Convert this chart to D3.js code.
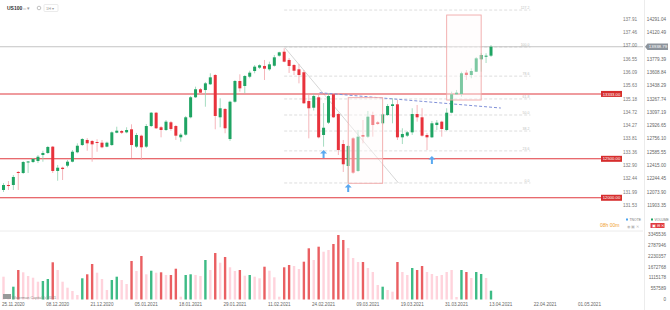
<!DOCTYPE html>
<html><head><meta charset="utf-8">
<script src="https://cdn.jsdelivr.net/npm/d3@7"></script>
<style>body{margin:0;background:#fff;} svg{display:block;font-family:"Liberation Sans",Arial,sans-serif;}</style>
</head><body><svg id="c" width="670" height="310"></svg>
<script>
// ---------- DATA ----------
const opens = [12100,12164,12164,12331,12318,12453,12459,12472,12549,12575,
12656,12344,12386,12412,12463,12584,12677,12742,12729,12716,
12707,12656,12677,12835,12857,12840,12879,12656,12797,12656,
12921,13092,12905,12870,12969,12921,12776,12810,13033,13290,
13393,13383,13457,13576,13033,13140,12754,13233,13499,13435,
13554,13627,13670,13692,13649,13695,13824,13875,13769,13704,
13649,13611,13242,13156,13290,12806,12964,13328,13075,12690,
12408,12763,12344,12806,12784,13062,12969,12956,13062,13178,
13200,12776,12797,12840,13075,13033,12806,12776,12934,12977,
12870,13092,13328,13332,13606,13576,13618,13777,13811,13824];
const highs = [12189,12215,12292,12344,12472,12472,12511,12549,12604,12665,
12665,12421,12399,12485,12613,12699,12767,12767,12742,12751,
12742,12720,12853,12912,12870,12905,12943,12832,12810,12947,
13101,13101,12921,12998,12986,12934,12831,13050,13306,13426,
13409,13486,13598,13589,13277,13152,13246,13512,13585,13576,
13631,13704,13713,13769,13747,13833,13875,13919,13794,13717,
13717,13640,13319,13332,13319,13216,13345,13345,13088,12742,
12677,12780,12870,12998,13114,13105,12986,13088,13204,13277,
13255,12892,12857,13149,13191,13149,12832,12986,12998,12989,
13149,13362,13384,13619,13640,13662,13807,13858,13855,13961];
const lows = [12074,12100,12100,12100,12305,12318,12446,12446,12463,12562,
12318,12219,12228,12391,12455,12571,12665,12604,12463,12591,
12635,12648,12665,12828,12819,12828,12511,12639,12485,12639,
12908,12883,12776,12857,12861,12742,12720,12797,13020,13281,
13332,13169,13448,12879,12905,12828,12729,13220,13362,13341,
13534,13598,13653,13512,13631,13683,13811,13739,13602,13576,
13469,13204,12763,13120,12763,12656,12947,13024,12549,12331,
12186,12305,12331,12699,12767,12784,12934,12938,13050,12956,
12742,12690,12780,12806,12977,12784,12613,12767,12870,12784,
12857,13084,13319,13298,13512,13534,13614,13618,13730,13807];
const closes = [12164,12151,12267,12318,12459,12466,12498,12527,12575,12652,
12344,12386,12369,12463,12591,12668,12754,12699,12686,12703,
12648,12707,12840,12861,12835,12870,12677,12806,12648,12921,
13092,12892,12870,12977,12883,12797,12810,13033,13290,13393,
13349,13469,13546,13050,13149,12892,13233,13499,13405,13563,
13606,13683,13701,13657,13713,13803,13867,13747,13692,13631,
13576,13213,13149,13306,12776,12899,13306,13033,12613,12430,
12665,12322,12784,12784,13041,12934,12947,13071,13178,13200,
12776,12819,12840,13075,13033,12797,12776,12956,12964,12883,
13092,13328,13349,13598,13576,13627,13790,13833,13824,13939];
const volumes = [1174000,77000,659000,1518000,1400000,1210000,1122000,916000,952000,1055000,
1915000,1518000,916000,607000,438000,232000,1091000,1297000,1827000,1379000,
1055000,489000,1004000,1174000,1004000,798000,1982000,1467000,2239000,1297000,
1482000,1379000,1400000,1261000,1261000,1585000,144000,1261000,1297000,1261000,
1210000,2033000,1518000,2393000,1894000,2188000,1657000,1467000,1518000,1225000,
1261000,1174000,1091000,1688000,1482000,1143000,144000,1657000,1776000,1724000,
1570000,1946000,2635000,2033000,2718000,2460000,2548000,2857000,3320000,3063000,
2651000,2136000,1930000,1930000,1621000,1415000,746000,659000,489000,402000,
1930000,1415000,1261000,1621000,1518000,1724000,1415000,1313000,1210000,1261000,
1415000,1518000,129000,1518000,1415000,1107000,1415000,1313000,1107000,453000];
const volumeKinds = ["p","p","g","r","p","p","p","p","g","g",
"r","p","p","p","p","p","g","r","r","p",
"p","p","g","g","p","p","r","p","r","p",
"g","p","r","p","r","r","p","g","g","p",
"p","g","p","r","p","r","p","p","r","p",
"g","p","p","r","p","p","p","r","r","p",
"p","r","r","p","r","p","p","r","r","r",
"p","p","p","r","p","p","p","g","p","p",
"r","p","p","g","r","r","p","p","p","p",
"p","p","p","g","r","p","g","g","p","g"];
const dateLabels = ["25.11.2020","08.12.2020","21.12.2020","05.01.2021","18.01.2021","29.01.2021","11.02.2021","24.02.2021","09.03.2021","19.03.2021","31.03.2021","13.04.2021","22.04.2021","01.05.2021"];
const priceTicks = [11903.35,12073.90,12244.45,12415.00,12585.55,12756.10,12926.65,13097.19,13267.74,13438.29,13608.84,13779.39,14120.49,14291.04];
const priceTickText = ["11903.35","12073.90","12244.45","12415.00","12585.55","12756.10","12926.65","13097.19","13267.74","13438.29","13608.84","13779.39","14120.49","14291.04"];
const altTickText = ["131.53","131.99","132.44","132.90","133.36","133.81","134.27","134.72","135.18","135.63","136.09","136.55","137.00","137.46","137.91"];
const altTickPrices = [11903.35,12073.90,12244.45,12415.00,12585.55,12756.10,12926.65,13097.19,13267.74,13438.29,13608.84,13779.39,13949.94,14120.49,14291.04];
const volTicks = [0,557589,1115178,1672768,2230357,2787946,3345536];
const levelPrices = [13333, 12500, 12000];
const levelText = ["13333.00","12500.00","12000.00"];
const currentPrice = 13938.79;
const fibRatios = [0, 23.6, 38.2, 50.0, 61.8, 78.6, 100.0, 127.2];
const fibLow = 12190, fibHigh = 13935;

// ---------- SCALES ----------
const svg = d3.select("#c");
const x = d3.scaleLinear().domain([0, 99]).range([3.5, 491]);
const y = d3.scaleLinear().domain([11903.35, 14291.04]).range([205.3, 19.3]);
const yv = d3.scaleLinear().domain([0, 3345536]).range([299.5, 234.5]);

const GREEN = "#1fa463", RED = "#e8323c", GWICK = "#8fd3b1", RWICK = "#f3a3aa";

// separators
svg.append("line").attr("x1",0).attr("x2",643).attr("y1",231).attr("y2",231).attr("stroke","#ececec");
svg.append("line").attr("x1",644.5).attr("x2",644.5).attr("y1",0).attr("y2",310).attr("stroke","#ececec");

// fib retracement
const fibX1 = x(57), fibX2 = x(107);
fibRatios.forEach(r => {
  const p = fibLow + (fibHigh - fibLow) * r / 100;
  svg.append("line").attr("x1",fibX1).attr("x2",fibX2).attr("y1",y(p)).attr("y2",y(p))
     .attr("stroke","#d4d4d4").attr("stroke-width",0.8).attr("stroke-dasharray","3,2");
  svg.append("text").attr("x",fibX2-1).attr("y",y(p)-1).attr("text-anchor","end")
     .attr("font-size",3.5).attr("fill","#c0c0c0").text(r.toFixed(1));
});
svg.append("line").attr("x1",x(57.2)).attr("y1",y(13922)).attr("x2",x(80.2)).attr("y2",y(fibLow))
   .attr("stroke","#cccccc").attr("stroke-width",0.8);

// current price line
svg.append("line").attr("x1",0).attr("x2",643).attr("y1",y(currentPrice)).attr("y2",y(currentPrice))
   .attr("stroke","#b5b5b5").attr("stroke-width",0.8);

// level lines
levelPrices.forEach((p,i) => {
  svg.append("line").attr("x1",0).attr("x2",601).attr("y1",y(p)).attr("y2",y(p))
     .attr("stroke","#e0393e").attr("stroke-width",1.1);
  svg.append("rect").attr("x",601).attr("y",y(p)-3).attr("width",21).attr("height",6).attr("fill","#d62d2d");
  svg.append("text").attr("x",611.5).attr("y",y(p)+1.6).attr("text-anchor","middle")
     .attr("font-size",4.2).attr("fill","#fff").text(levelText[i]);
});

// blue dashed trend line
svg.append("line").attr("x1",x(64.2)).attr("y1",y(13349)).attr("x2",x(101)).attr("y2",y(13152))
   .attr("stroke","#7f90d8").attr("stroke-width",1).attr("stroke-dasharray","3,2");

// candles
const idx = d3.range(opens.length);
const cg = svg.append("g");
cg.selectAll("line.w").data(idx).join("line")
  .attr("x1",i=>x(i)).attr("x2",i=>x(i)).attr("y1",i=>y(highs[i])).attr("y2",i=>y(lows[i]))
  .attr("stroke",i=>closes[i]>=opens[i]?GWICK:RWICK).attr("stroke-width",0.8);
cg.selectAll("rect.b").data(idx).join("rect")
  .attr("x",i=>x(i)-1.5).attr("width",3)
  .attr("y",i=>y(Math.max(opens[i],closes[i])))
  .attr("height",i=>Math.max(0.8, Math.abs(y(opens[i])-y(closes[i]))))
  .attr("fill",i=>closes[i]>=opens[i]?GREEN:RED);

// rectangles (fade overlay)
[[70.0, 77.0, 13285, 12186],[90.0, 97.0, 14346, 13255]].forEach(r => {
  svg.append("rect").attr("x",x(r[0])).attr("width",x(r[1])-x(r[0]))
     .attr("y",y(r[2])).attr("height",y(r[3])-y(r[2]))
     .attr("fill","rgba(255,250,250,0.42)").attr("stroke","#f1a7a7").attr("stroke-width",0.9);
});

// blue arrows
[[65,12613],[70,12177],[87,12536]].forEach(a => {
  const ax = x(a[0]), ay = y(a[1]);
  svg.append("path").attr("d",`M${ax},${ay} L${ax+3.5},${ay+3.5} L${ax+1},${ay+3.5} L${ax+1},${ay+8} L${ax-1},${ay+8} L${ax-1},${ay+3.5} L${ax-3.5},${ay+3.5} Z`)
     .attr("fill","#5aa9f0");
});

// price axis labels
svg.selectAll("text.pt").data(priceTicks).join("text")
  .attr("x",666).attr("y",d=>y(d)+1.6).attr("text-anchor","end")
  .attr("font-size",4.6).attr("fill","#666").text((d,i)=>priceTickText[i]);
svg.selectAll("text.at").data(altTickPrices).join("text")
  .attr("x",637).attr("y",d=>y(d)+1.6).attr("text-anchor","end")
  .attr("font-size",4.6).attr("fill","#777").text((d,i)=>altTickText[i]);

// current price label
const cy = y(currentPrice);
svg.append("path").attr("d",`M645,${cy} L647.5,${cy-3.2} L668,${cy-3.2} L668,${cy+3.2} L647.5,${cy+3.2} Z`).attr("fill","#8d949c");
svg.append("text").attr("x",658).attr("y",cy+1.6).attr("text-anchor","middle").attr("font-size",4.4).attr("fill","#fff").text("13938.79");

// volume bars
const vcol = {p:"#ffd3dc", r:"#ea5f62", g:"#3dbb85"};
svg.selectAll("rect.v").data(idx).join("rect")
  .attr("x",i=>x(i)-1.2).attr("width",2.4)
  .attr("y",i=>yv(volumes[i])).attr("height",i=>yv(0)-yv(volumes[i]))
  .attr("fill",i=>vcol[volumeKinds[i]]);

// volume axis
svg.selectAll("text.vt").data(volTicks).join("text")
  .attr("x",666).attr("y",d=>yv(d)+1.6).attr("text-anchor","end")
  .attr("font-size",4.6).attr("fill","#666").text(d=>d);

// date labels
svg.selectAll("text.dt").data(dateLabels).join("text")
  .attr("x",(d,i)=>x(2+9*i)).attr("y",305.5).attr("text-anchor","middle")
  .attr("font-size",4.6).attr("fill","#666").text(d=>d);

// legend / header
svg.append("text").attr("x",600).attr("y",226.5).attr("font-size",5).attr("fill","#f0a030").text("08h 00m");
svg.append("rect").attr("x",626).attr("y",218.5).attr("width",2).attr("height",2).attr("fill","#4aa3f0");
svg.append("text").attr("x",629.5).attr("y",220.6).attr("font-size",3.4).attr("fill","#777").text("TNOTE");
svg.append("text").attr("x",627).attr("y",228).attr("font-size",3.6).attr("fill","#bbb").text("◉  ▣  ✕");
svg.append("rect").attr("x",651).attr("y",218.5).attr("width",2).attr("height",2).attr("fill","#1fa463");
svg.append("text").attr("x",654.5).attr("y",220.6).attr("font-size",3.4).attr("fill","#777").text("VOLUME");
svg.append("rect").attr("x",650.5).attr("y",223).attr("width",14).attr("height",5).attr("fill","#e0393e");
svg.append("text").attr("x",652).attr("y",226.8).attr("font-size",3.5).attr("fill","#fff").text("▣ ⊟   ✕");

svg.append("text").attr("x",7).attr("y",9.5).attr("font-size",5).attr("font-weight","bold").attr("fill","#333").text("US100");
svg.append("text").attr("x",23).attr("y",9.5).attr("font-size",4.5).attr("fill","#999").text("═  ▾");
svg.append("circle").attr("cx",39).attr("cy",8).attr("r",1.8).attr("fill","none").attr("stroke","#999").attr("stroke-width",0.6);
svg.append("rect").attr("x",44).attr("y",4.5).attr("width",14).attr("height",7).attr("rx",1).attr("fill","none").attr("stroke","#ddd").attr("stroke-width",0.6);
svg.append("text").attr("x",46).attr("y",9.5).attr("font-size",4).attr("fill","#999").text("1H  ▾");

svg.append("rect").attr("x",3).attr("y",294).attr("width",8).attr("height",5).attr("fill","#999");
svg.append("text").attr("x",12).attr("y",298.5).attr("font-size",3.8).attr("fill","#888").text("Waterman Capital (c)2021");
</script></body></html>
